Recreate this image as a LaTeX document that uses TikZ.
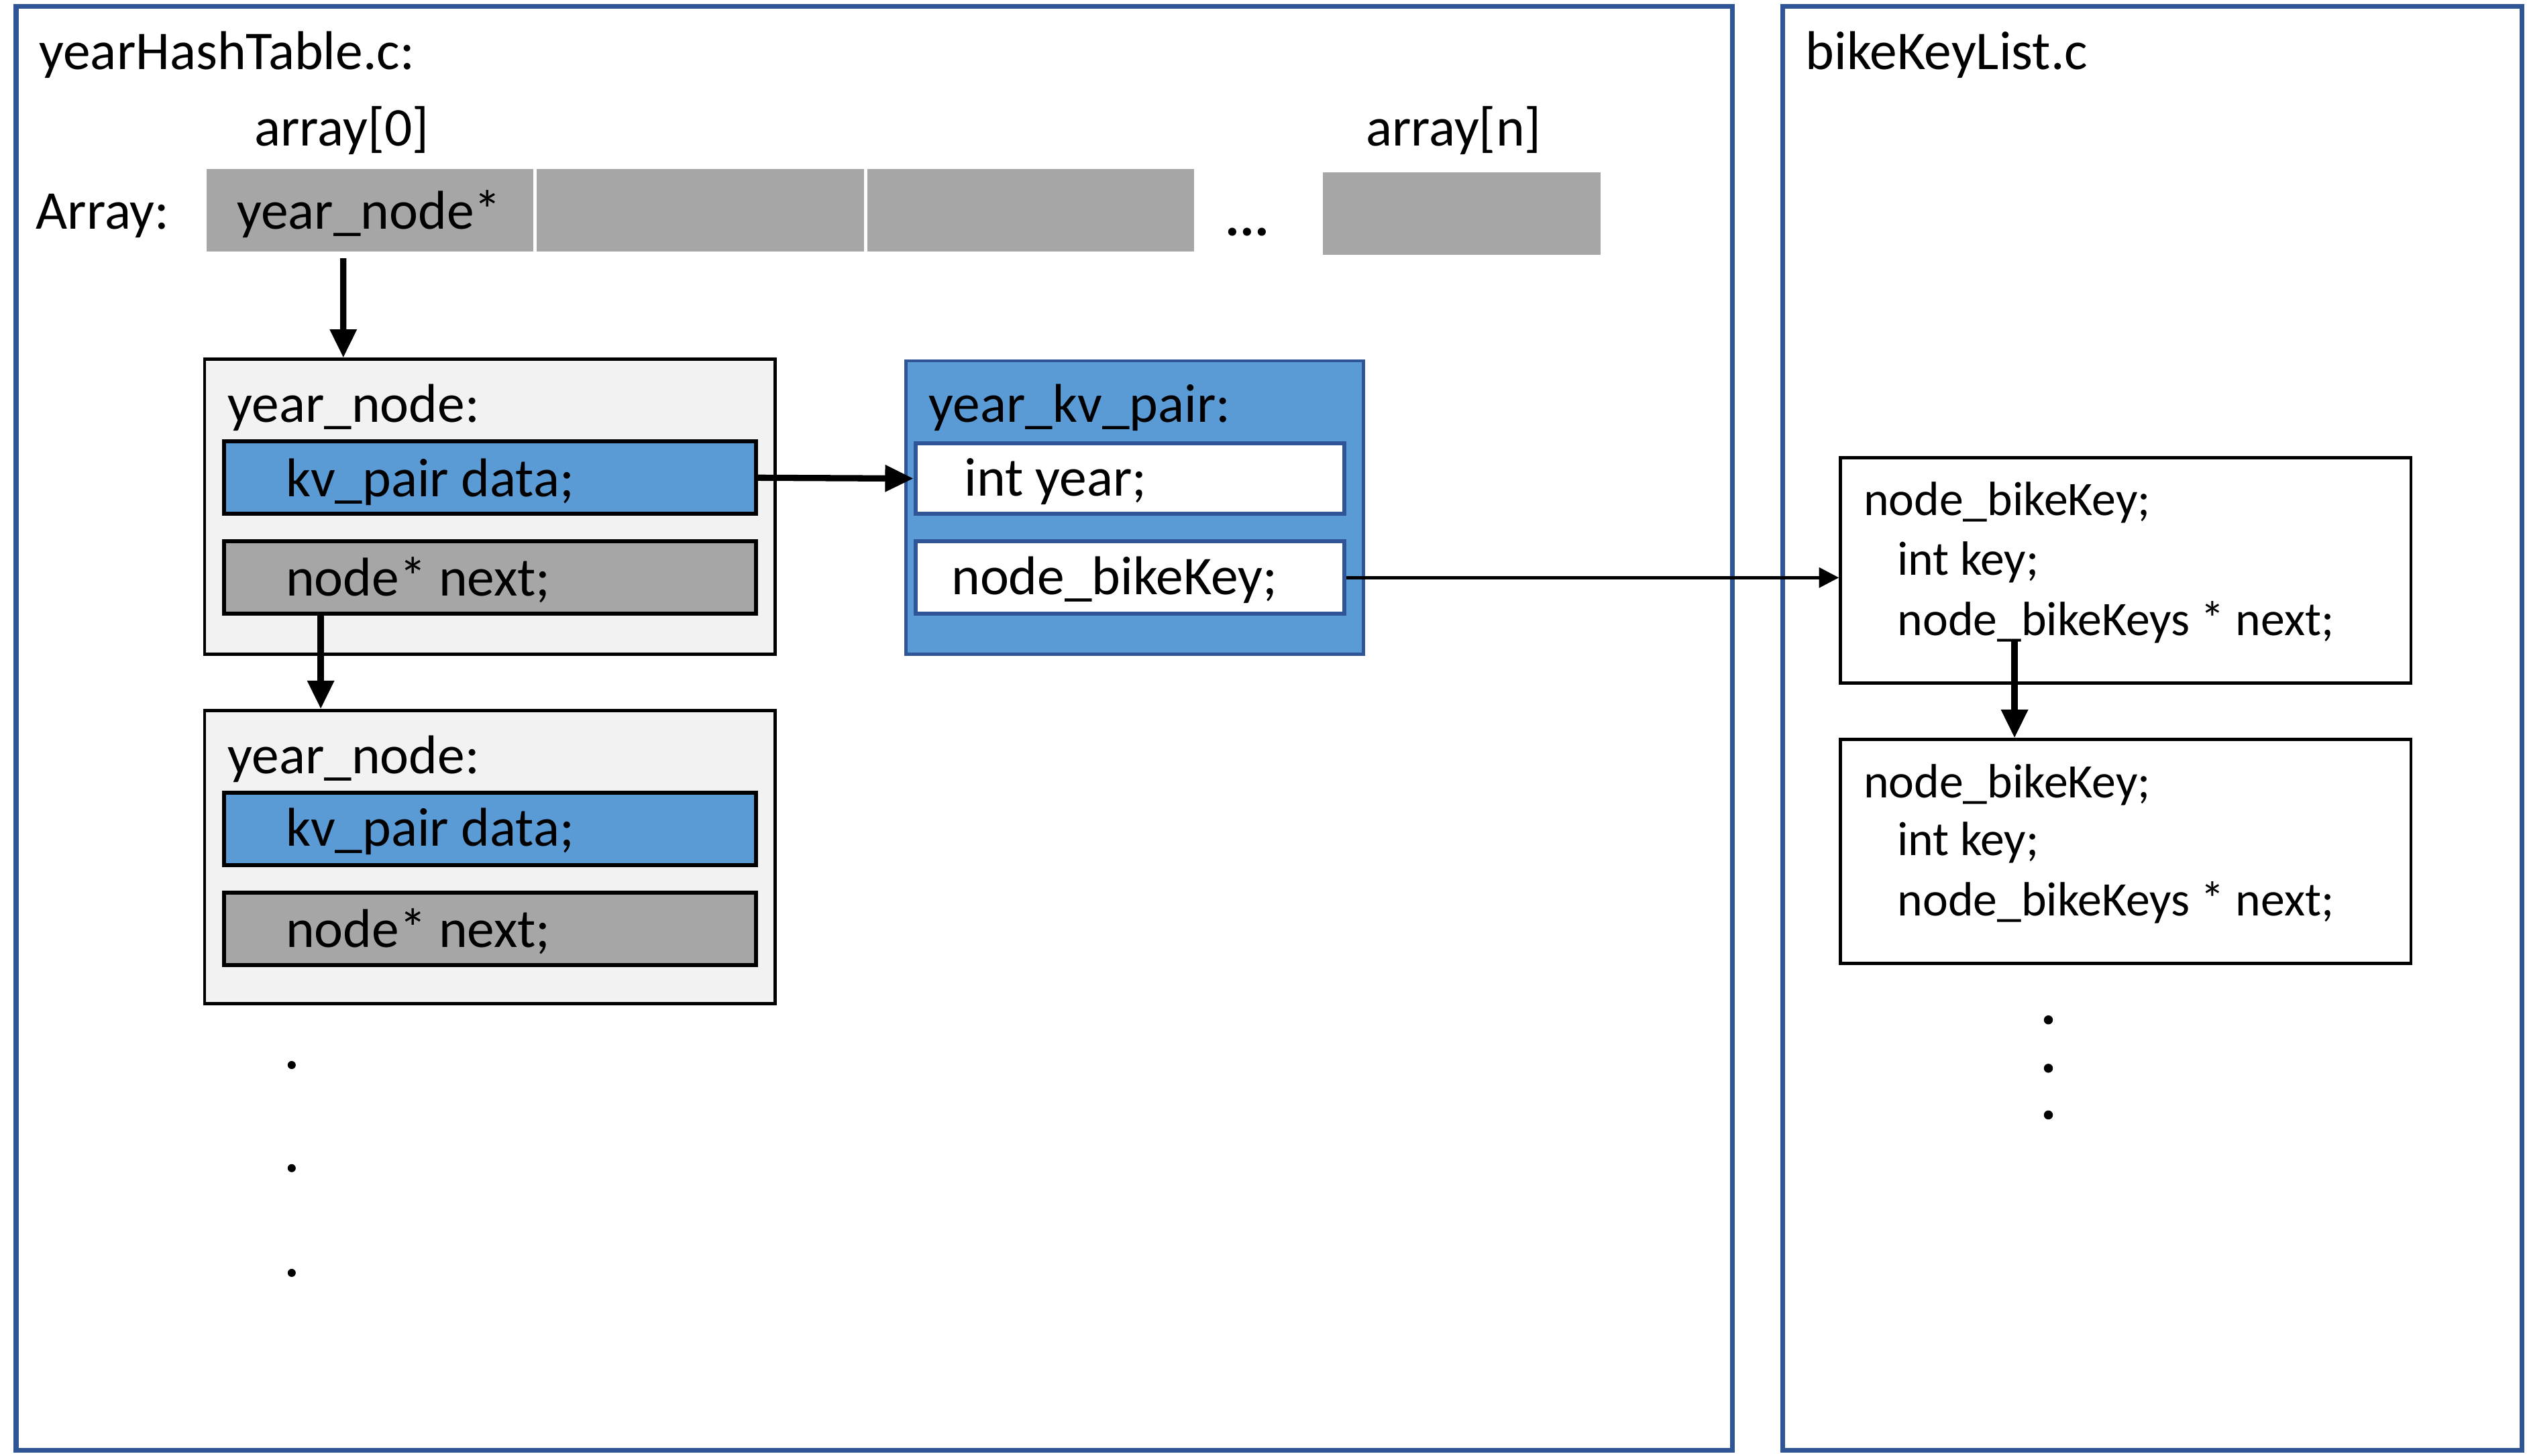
\documentclass[tikz,border=0pt]{standalone}
\usepackage{fontspec}
\setmainfont{Carlito}
\usetikzlibrary{fit,arrows.meta}
\definecolor{frameblue}{HTML}{2F5597}
\definecolor{fillblue}{HTML}{5B9BD5}
\definecolor{cellgray}{HTML}{A6A6A6}
\definecolor{lightgray}{HTML}{F2F2F2}
\begin{document}
\begin{tikzpicture}[x=0.02cm,y=-0.02cm,
  frame/.style={draw=frameblue,line width=1.7pt,inner sep=0pt},
  cell/.style={fill=cellgray,inner sep=0pt},
  ynode/.style={draw=black,fill=lightgray,line width=1.1pt,inner sep=0pt},
  kvbox/.style={draw=black,fill=fillblue,line width=1.4pt,inner sep=0pt},
  nxbox/.style={draw=black,fill=cellgray,line width=1.4pt,inner sep=0pt},
  pairbox/.style={draw=frameblue,fill=fillblue,line width=1.1pt,inner sep=0pt},
  fieldbox/.style={draw=frameblue,fill=white,line width=1.4pt,inner sep=0pt},
  bkbox/.style={draw=black,fill=white,line width=1.1pt,inner sep=0pt},
  txt/.style={anchor=west,inner sep=0pt,font=\fontsize{19.3pt}{23pt}\selectfont},
  ctxt/.style={inner sep=0pt,font=\fontsize{19.3pt}{23pt}\selectfont},
  stxt/.style={anchor=west,inner sep=0pt,font=\fontsize{17pt}{20pt}\selectfont},
  thick arrow/.style={line width=2.2pt,-{Triangle[length=10pt,width=9pt]}},
  thin arrow/.style={line width=1.1pt,-{Triangle[length=7pt,width=7pt]}},
  dot/.style={fill=black}
]
\useasboundingbox (0,0) rectangle (1568,903.3);

% frames
\node[frame,fit={(10,4)(1075,900)}] (frameL) {};
\node[frame,fit={(1106,4)(1565,900)}] (frameR) {};
\node[txt] (titleL) at (24,34) {yearHashTable.c:};
\node[txt] (titleR) at (1120,34) {bikeKeyList.c};

% array
\node[ctxt] (a0) at (212,81) {array[0]};
\node[ctxt] (an) at (902,81) {array[n]};
\node[txt] (arrlbl) at (22,134) {Array:};
\node[cell,fit={(128,105)(331,156)}] (cell0) {};
\node[ctxt] (cell0t) at (229,133) {year\_node*};
\node[cell,fit={(333,105)(536,156)}] (cell1) {};
\node[cell,fit={(538,105)(741,156)}] (cell2) {};
\node[ctxt] (adots) at (774,144) {\textbf{...}};
\node[cell,fit={(821,107)(993,158)}] (celln) {};

% year_node 1
\node[ynode,fit={(127,223)(481,406)}] (yn1) {};
\node[txt] (yn1t) at (141,253) {year\_node:};
\node[kvbox,fit={(139,274)(469,319)}] (kv1) {};
\node[txt] (kv1t) at (177,299) {kv\_pair data;};
\node[nxbox,fit={(139,336)(469,381)}] (nx1) {};
\node[txt] (nx1t) at (177,360) {node* next;};

% year_node 2
\node[ynode,fit={(127,441)(481,623)}] (yn2) {};
\node[txt] (yn2t) at (141,471) {year\_node:};
\node[kvbox,fit={(139,492)(469,537)}] (kv2) {};
\node[txt] (kv2t) at (177,516) {kv\_pair data;};
\node[nxbox,fit={(139,554)(469,599)}] (nx2) {};
\node[txt] (nx2t) at (177,578) {node* next;};

% dots left
\fill[dot] (181,661) circle (2.5);
\fill[dot] (181,725) circle (2.5);
\fill[dot] (181,790) circle (2.5);

% year_kv_pair
\node[pairbox,fit={(562,224)(846,406)}] (ykv) {};
\node[txt] (ykvt) at (576,253) {year\_kv\_pair:};
\node[fieldbox,fit={(568,275)(834,319)}] (iy) {};
\node[txt] (iyt) at (598,299) {int year;};
\node[fieldbox,fit={(568,336)(834,381)}] (nb) {};
\node[txt] (nbt) at (590,360) {node\_bikeKey;};

% bikeKey boxes
\node[bkbox,fit={(1142,284)(1496,424)}] (bk1) {};
\node[stxt] (bk1a) at (1156,312) {node\_bikeKey;};
\node[stxt] (bk1b) at (1177,349) {int key;};
\node[stxt] (bk1c) at (1177,386) {node\_bikeKeys * next;};
\node[bkbox,fit={(1142,459)(1496,598)}] (bk2) {};
\node[stxt] (bk2a) at (1156,487) {node\_bikeKey;};
\node[stxt] (bk2b) at (1177,523) {int key;};
\node[stxt] (bk2c) at (1177,560) {node\_bikeKeys * next;};

% dots right
\fill[dot] (1271,633) circle (2.8);
\fill[dot] (1271,663) circle (2.8);
\fill[dot] (1271,692) circle (2.8);

% connectors
\draw[thick arrow] ([xshift=-0.33cm,yshift=-0.08cm]cell0.south) -- ([xshift=-1.82cm]yn1.north);
\draw[thick arrow] ([xshift=-2.1cm]nx1.south) -- ([xshift=-2.1cm]yn2.north);
\draw[thick arrow] (kv1.east) -- (iy.west);
\draw[thin arrow] (nb.east) -- (nb.east -| bk1.west);
\draw[thick arrow] ([xshift=-1.38cm,yshift=0.54cm]bk1.south) -- ([xshift=-1.38cm]bk2.north);
\end{tikzpicture}
\end{document}
